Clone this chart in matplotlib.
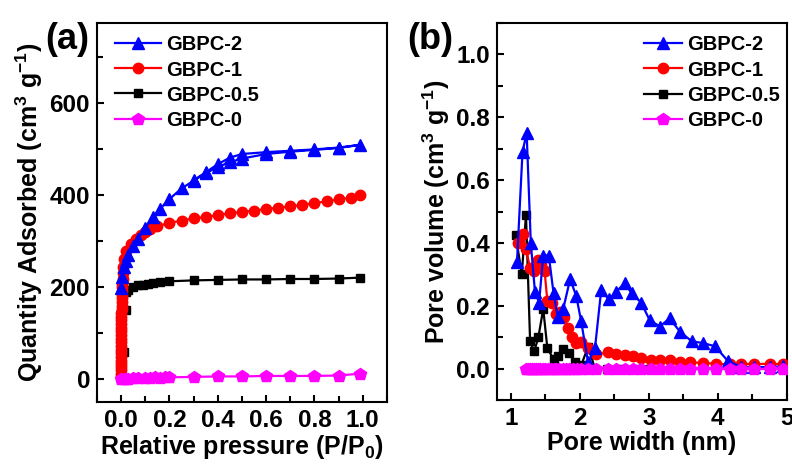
import numpy as np
import matplotlib
matplotlib.use('Agg')
import matplotlib.pyplot as plt
from matplotlib.ticker import MultipleLocator

plt.rcParams['font.family'] = ['Liberation Sans', 'DejaVu Sans']
plt.rcParams['font.weight'] = 'bold'
plt.rcParams['mathtext.fontset'] = 'custom'
plt.rcParams['mathtext.rm'] = 'Liberation Sans:bold'
plt.rcParams['mathtext.bf'] = 'Liberation Sans:bold'
plt.rcParams['mathtext.default'] = 'bf'

# (a) N2 isotherms
p2 = [0.001, 0.005, 0.01, 0.02, 0.03, 0.05, 0.07, 0.1, 0.13, 0.16, 0.2, 0.25, 0.3, 0.35,
      0.4, 0.45, 0.5, 0.6, 0.7, 0.8, 0.9, 0.99,
      0.9, 0.8, 0.7, 0.6, 0.5, 0.45, 0.4, 0.35, 0.3]
q2 = [198, 222, 244, 258, 270, 290, 305, 330, 352, 370, 392, 415, 432, 448,
      462, 472, 480, 490, 495, 499, 503, 510,
      504, 500, 497, 494, 490, 482, 468, 450, 433]

# low-pressure uptake of GBPC-1 is a dense column of points near P/P0 = 0
p1 = [0.00001, 0.00002, 0.00003, 0.00004, 0.00005, 0.00006, 0.00008, 0.0001, 0.00012, 0.00015,
      0.0002, 0.00025, 0.0003, 0.0004, 0.0005, 0.0006, 0.0008, 0.001, 0.0012, 0.0015,
      0.002, 0.0025, 0.003, 0.0035, 0.004, 0.0045, 0.005, 0.006, 0.007, 0.008,
      0.01, 0.02, 0.04, 0.06, 0.08, 0.1, 0.12, 0.15, 0.2, 0.25, 0.3, 0.35, 0.4, 0.45,
      0.5, 0.55, 0.6, 0.65, 0.7, 0.75, 0.8, 0.85, 0.9, 0.95, 0.99]
q1 = [5, 12, 19, 26, 33, 40, 48, 56, 64, 72,
      80, 88, 96, 104, 112, 120, 128, 136, 144, 152,
      160, 168, 176, 184, 192, 200, 208, 218, 230, 245,
      262, 280, 295, 305, 314, 321, 327, 333, 340, 345, 350, 353, 357, 361,
      364, 367, 370, 373, 376, 379, 383, 387, 391, 395, 400]

p05 = [0.001, 0.01, 0.018, 0.022, 0.03, 0.05, 0.07, 0.09, 0.11, 0.13, 0.16, 0.2,
       0.3, 0.4, 0.5, 0.6, 0.7, 0.8, 0.9, 0.99]
q05 = [2, 60, 150, 190, 195, 200, 204, 206, 208, 210, 212, 213,
       215, 216, 217, 217, 218, 218, 219, 221]

p0 = [0.001, 0.01, 0.02, 0.03, 0.05, 0.07, 0.1, 0.12, 0.14, 0.16, 0.18, 0.2,
      0.3, 0.4, 0.5, 0.6, 0.7, 0.8, 0.9, 0.99]
q0 = [0, 1, 1, 1, 2, 2, 3, 3, 4, 3, 4, 4, 5, 6, 6, 7, 7, 7, 8, 12]

# (b) pore size distribution
w2 = [1.09, 1.17, 1.23, 1.29, 1.35, 1.41, 1.47, 1.55, 1.62, 1.68, 1.76, 1.86, 1.95, 2.02,
      2.12, 2.22, 2.31, 2.42, 2.53, 2.65, 2.75, 2.89, 3.01, 3.16, 3.30, 3.45, 3.62, 3.79,
      3.96, 4.15, 4.34, 4.53, 4.75, 4.94]
v2 = [0.34, 0.69, 0.75, 0.40, 0.245, 0.21, 0.36, 0.36, 0.24, 0.165, 0.19, 0.285, 0.23, 0.15,
      0.02, 0.065, 0.25, 0.22, 0.245, 0.272, 0.24, 0.21, 0.155, 0.134, 0.16, 0.118, 0.087, 0.081,
      0.071, 0.023, 0.005, 0.005, 0.005, 0.007]

w1 = [1.10, 1.17, 1.22, 1.28, 1.34, 1.39, 1.44, 1.49, 1.53, 1.59, 1.65, 1.71, 1.77, 1.83,
      1.89, 1.95, 2.02, 2.12, 2.24, 2.41, 2.53, 2.65, 2.77, 2.89, 3.03, 3.16, 3.30, 3.45,
      3.59, 3.79, 3.98, 4.17, 4.34, 4.53, 4.75, 4.95]
v1 = [0.40, 0.43, 0.38, 0.32, 0.31, 0.345, 0.33, 0.31, 0.215, 0.21, 0.175, 0.18, 0.165, 0.13,
      0.10, 0.08, 0.085, 0.065, 0.045, 0.052, 0.047, 0.044, 0.04, 0.033, 0.028, 0.026, 0.026, 0.022,
      0.02, 0.018, 0.015, 0.014, 0.015, 0.015, 0.015, 0.015]

w05 = [1.07, 1.16, 1.22, 1.28, 1.34, 1.40, 1.47, 1.53, 1.62, 1.69, 1.76, 1.85, 1.93, 2.02,
       2.12, 2.22, 2.4, 2.6, 2.8, 3.0]
v05 = [0.425, 0.30, 0.49, 0.087, 0.055, 0.10, 0.19, 0.065, 0.03, 0.04, 0.062, 0.05, 0.02, 0.01,
       0.07, 0.0, 0.0, 0.0, 0.0, 0.0]

w0 = [1.22, 1.25, 1.28, 1.31, 1.34, 1.37, 1.40, 1.43, 1.46, 1.50, 1.54, 1.58, 1.62, 1.66,
      1.70, 1.75, 1.80, 1.85, 1.90, 1.96, 2.02, 2.12, 2.24, 2.41, 2.53, 2.65, 2.77, 2.89,
      3.03, 3.16, 3.30, 3.45, 3.59, 3.79, 3.98, 4.17, 4.34, 4.53, 4.75, 4.95]
v0 = [0.0] * len(w0)

labels = ['GBPC-2', 'GBPC-1', 'GBPC-0.5', 'GBPC-0']

fig = plt.figure(figsize=(7.92, 4.66), dpi=100)
axa = fig.add_axes([0.1225, 0.137, 0.366, 0.8136])
axb = fig.add_axes([0.6275, 0.1416, 0.366, 0.809])

lw = 1.6
for ax, data, hl, anchor in [(axa, [(p05, q05), (p1, q1), (p2, q2), (p0, q0)], 2.3, (0.0, 1.015)),
                             (axb, [(w05, v05), (w1, v1), (w2, v2), (w0, v0)], 1.9, (0.445, 1.015))]:
    h05, = ax.plot(*data[0], 's-', color='black', ms=6, lw=lw, zorder=2)
    h1, = ax.plot(*data[1], 'o-', color='red', ms=7.5, lw=lw, zorder=3)
    h2, = ax.plot(*data[2], '^-', color='blue', ms=9, lw=lw, zorder=4)
    h0, = ax.plot(*data[3], 'p-', color='magenta', ms=9, lw=lw, zorder=5)
    ax.legend([h2, h1, h05, h0], labels, loc='upper left', bbox_to_anchor=anchor,
              frameon=False, fontsize=14.5, handlelength=hl, handletextpad=0.25,
              labelspacing=0.3)
    for sp in ax.spines.values():
        sp.set_linewidth(1.5)
    ax.tick_params(which='both', direction='in', top=False, right=False, width=1.5,
                   labelsize=17.5, pad=5)
    ax.tick_params(which='major', length=5)
    ax.tick_params(which='minor', length=4)

axa.set_xlim(-0.1, 1.1)
axa.set_ylim(-50, 775)
axa.xaxis.set_minor_locator(MultipleLocator(0.1))
axa.yaxis.set_minor_locator(MultipleLocator(100))
axa.set_xticks([0, 0.2, 0.4, 0.6, 0.8, 1.0])
axa.set_xticklabels(['0.0', '0.2', '0.4', '0.6', '0.8', '1.0'], fontweight='bold')
axa.set_yticks([0, 200, 400, 600])
axa.set_yticklabels(['0', '200', '400', '600'], fontweight='bold')
axa.set_xlabel('Relative pressure (P/P$_0$)', fontsize=18, fontweight='bold', labelpad=1)
axa.set_ylabel('Quantity Adsorbed (cm$^3$ g$^{-1}$)', fontsize=18, fontweight='bold', labelpad=3)

axb.set_xlim(0.8, 5)
axb.set_ylim(-0.1, 1.1)
axb.set_xticks([1, 2, 3, 4, 5])
axb.set_xticklabels(['1', '2', '3', '4', '5'], fontweight='bold')
axb.xaxis.set_minor_locator(MultipleLocator(0.5))
axb.set_yticks([0.0, 0.2, 0.4, 0.6, 0.8, 1.0])
axb.set_yticklabels(['0.0', '0.2', '0.4', '0.6', '0.8', '1.0'], fontweight='bold')
axb.yaxis.set_minor_locator(MultipleLocator(0.1))
axb.set_xlabel('Pore width (nm)', fontsize=18, fontweight='bold', labelpad=1)
axb.set_ylabel('Pore volume (cm$^3$ g$^{-1}$)', fontsize=18, fontweight='bold', labelpad=3)

fig.text(0.085, 0.915, '(a)', fontsize=26, fontweight='bold', ha='center', va='center')
fig.text(0.543, 0.915, '(b)', fontsize=26, fontweight='bold', ha='center', va='center')

fig.savefig('out.png', dpi=100)
